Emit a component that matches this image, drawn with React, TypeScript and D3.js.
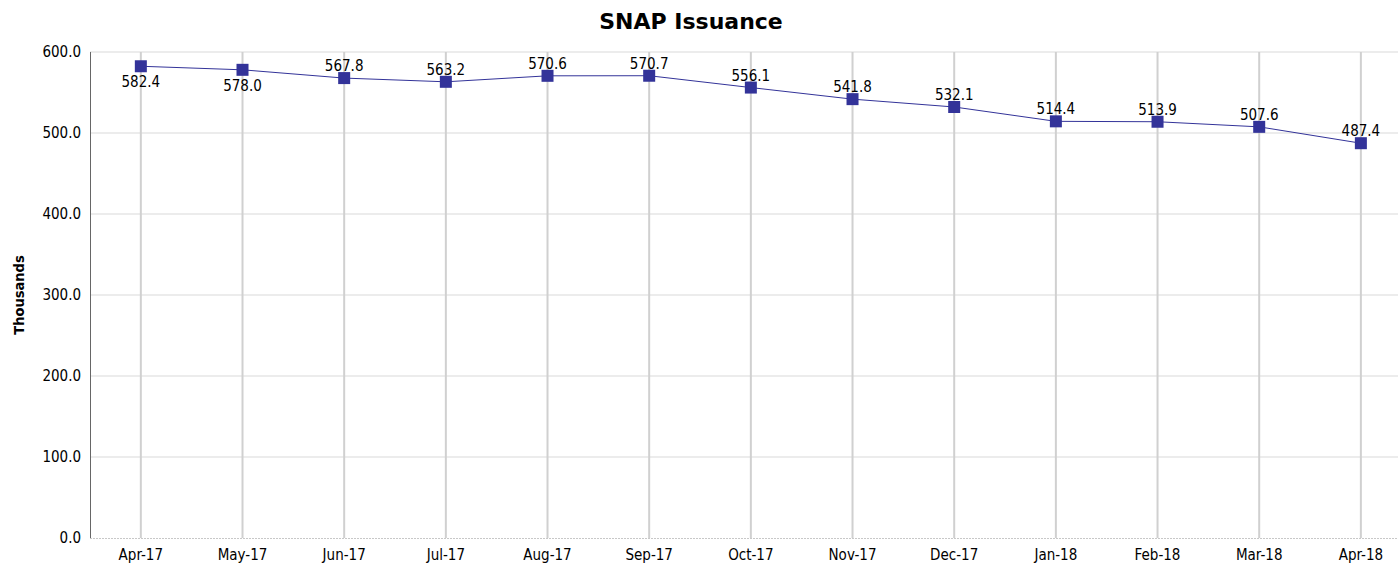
import React from "react";
import * as d3 from "d3";

const categories = ["Apr-17","May-17","Jun-17","Jul-17","Aug-17","Sep-17","Oct-17","Nov-17","Dec-17","Jan-18","Feb-18","Mar-18","Apr-18"];
const values = [582.4,578.0,567.8,563.2,570.6,570.7,556.1,541.8,532.1,514.4,513.9,507.6,487.4];
const labelBelow = [true,true,false,false,false,false,false,false,false,false,false,false,false];
const yTicks = [0,100,200,300,400,500,600];

const W = 1398, H = 564;
const left = 90, top = 52, bottom = 538;
const bandW = 101.67;
const right = left + bandW * categories.length;

export default function App() {
  const x = d3.scaleBand<string>().domain(categories).range([left, right]).padding(0);
  const y = d3.scaleLinear().domain([0, 600]).range([bottom, top]);
  const cx = (c: string) => (x(c) as number) + x.bandwidth() / 2;
  const line = d3.line<number>().x((_, i) => cx(categories[i])).y(v => y(v));
  const font = "'DejaVu Sans Condensed', 'DejaVu Sans', sans-serif";
  return (
    <svg width={W} height={H} style={{ position: "absolute", left: 0, top: 0, background: "#fff" }} fontFamily={font}>
      <text x={691} y={29} textAnchor="middle" fontSize={22} fontWeight="bold" fontFamily="'DejaVu Sans', sans-serif" fill="#000">SNAP Issuance</text>
      <text transform={`translate(24,${(top + bottom) / 2}) rotate(-90)`} textAnchor="middle" fontSize={14.5} fontWeight="bold" fill="#000">Thousands</text>
      {yTicks.map(t => (
        <g key={t}>
          {t > 0 && <line x1={left} x2={W} y1={y(t)} y2={y(t)} stroke="#d9d9d9" strokeWidth={1} />}
          <text x={81} y={y(t)} dy="0.35em" textAnchor="end" fontSize={15} fill="#000">{t.toFixed(1)}</text>
        </g>
      ))}
      {categories.map(c => (
        <g key={c}>
          <line x1={cx(c)} x2={cx(c)} y1={top} y2={bottom} stroke="#d0d0d0" strokeWidth={2} />
          <text x={cx(c)} y={560} textAnchor="middle" fontSize={15} fill="#000">{c}</text>
        </g>
      ))}
      <line x1={left} x2={W} y1={bottom + 0.5} y2={bottom + 0.5} stroke="#c8c8c8" strokeDasharray="2,1" />
      <line x1={left + 0.5} x2={left + 0.5} y1={top} y2={bottom} stroke="#666" strokeWidth={1} />
      <path d={line(values) || ""} fill="none" stroke="#333399" strokeWidth={1} />
      {values.map((v, i) => (
        <g key={i}>
          <rect x={cx(categories[i]) - 6} y={y(v) - 6} width={12} height={12} fill="#333399" />
          <text x={cx(categories[i])} y={labelBelow[i] ? y(v) + 21 : y(v) - 7} textAnchor="middle" fontSize={15} fill="#000">{v.toFixed(1)}</text>
        </g>
      ))}
    </svg>
  );
}
